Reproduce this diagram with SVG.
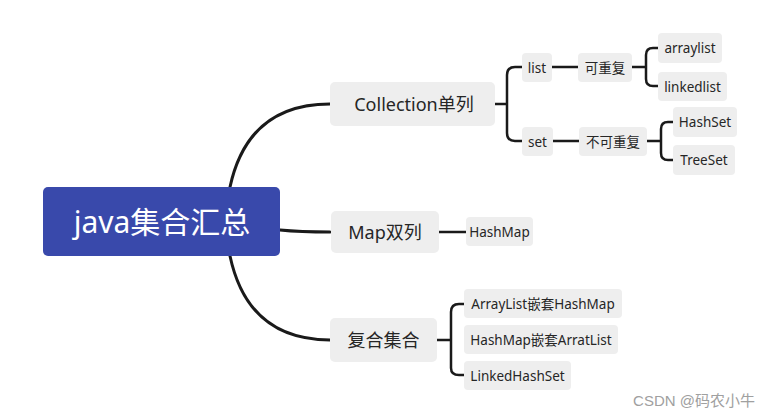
<svg xmlns="http://www.w3.org/2000/svg" width="770" height="419" viewBox="0 0 770 419">
<style>
.n{fill:#eeeeee}
.t{font-family:"Noto Sans","Noto Sans CJK SC",sans-serif;fill:#262626;text-anchor:middle;dominant-baseline:central}
.m{font-size:18px}
.s{font-size:13.5px}
.c{fill:none;stroke:#1a1a1a;stroke-width:2.5;stroke-linecap:round;stroke-linejoin:round}
.c3{stroke-width:3}
</style>
<rect width="770" height="419" fill="#ffffff"/>
<g id="connectors">
<path class="c c3" d="M230,187 Q248,104 330,104"/>
<path class="c c3" d="M280,230 Q300,232 330,232"/>
<path class="c c3" d="M230,256 Q248,340 330,340"/>
<path class="c" d="M495,104 H507 M522,67 H515 Q507,67 507,75 V133 Q507,141 515,141 H522"/>
<path class="c" d="M552,67 H578"/>
<path class="c" d="M553,141 H579"/>
<path class="c" d="M632,67 H646 M658,48 H653 Q646,48 646,55 V79 Q646,86 653,86 H658"/>
<path class="c" d="M647,141 H661 M673,122 H668 Q661,122 661,129 V153 Q661,160 668,160 H673"/>
<path class="c" d="M439,232 H466"/>
<path class="c" d="M437,340 H451 M464,304 H459 Q451,304 451,312 V368 Q451,375 459,375 H464"/>
</g>
<g id="root">
<rect x="43" y="187" width="237" height="69" rx="5" fill="#3949ab"/>
<text class="t" x="162" y="221.5" style="font-size:30px;fill:#ffffff">java集合汇总</text>
</g>
<g id="collection">
<rect class="n" x="330" y="82" width="165" height="44" rx="5"/>
<text class="t m" x="414" y="104">Collection单列</text>
</g>
<g id="map">
<rect class="n" x="331" y="211" width="108" height="42" rx="5"/>
<text class="t m" x="385" y="232">Map双列</text>
</g>
<g id="composite">
<rect class="n" x="330" y="318" width="107" height="44" rx="5"/>
<text class="t m" x="383.5" y="340">复合集合</text>
</g>
<g id="list">
<rect class="n" x="522" y="53" width="30" height="29" rx="4"/>
<text class="t s" x="537" y="67.5">list</text>
</g>
<g id="set">
<rect class="n" x="522" y="127" width="31" height="29" rx="4"/>
<text class="t s" x="537.5" y="141.5">set</text>
</g>
<g id="kechongfu">
<rect class="n" x="578" y="53" width="54" height="29" rx="4"/>
<text class="t s" x="605" y="67.5">可重复</text>
</g>
<g id="bukechongfu">
<rect class="n" x="579" y="127" width="68" height="29" rx="4"/>
<text class="t s" x="613" y="141.5">不可重复</text>
</g>
<g id="arraylist">
<rect class="n" x="658" y="33" width="64" height="30" rx="4"/>
<text class="t s" x="690" y="48">arraylist</text>
</g>
<g id="linkedlist">
<rect class="n" x="658" y="72" width="69" height="29" rx="4"/>
<text class="t s" x="692.5" y="86.5">linkedlist</text>
</g>
<g id="hashset">
<rect class="n" x="673" y="107" width="64" height="30" rx="4"/>
<text class="t s" x="705" y="122">HashSet</text>
</g>
<g id="treeset">
<rect class="n" x="673" y="145" width="62" height="30" rx="4"/>
<text class="t s" x="704" y="160">TreeSet</text>
</g>
<g id="hashmap">
<rect class="n" x="466" y="217" width="67" height="29" rx="4"/>
<text class="t s" x="499.5" y="231.5">HashMap</text>
</g>
<g id="arraylist-hashmap">
<rect class="n" x="464" y="289" width="158" height="29" rx="4"/>
<text class="t s" x="543" y="303.5">ArrayList嵌套HashMap</text>
</g>
<g id="hashmap-arratlist">
<rect class="n" x="464" y="325" width="154" height="29" rx="4"/>
<text class="t s" x="541" y="339.5">HashMap嵌套ArratList</text>
</g>
<g id="linkedhashset">
<rect class="n" x="464" y="361" width="107" height="29" rx="4"/>
<text class="t s" x="517.5" y="375.5">LinkedHashSet</text>
</g>
<text x="755" y="400" style="font-family:'Liberation Sans','Noto Sans CJK SC',sans-serif;font-size:15px;fill:#a0a0a0;text-anchor:end;dominant-baseline:central">CSDN @码农小牛</text>
</svg>
